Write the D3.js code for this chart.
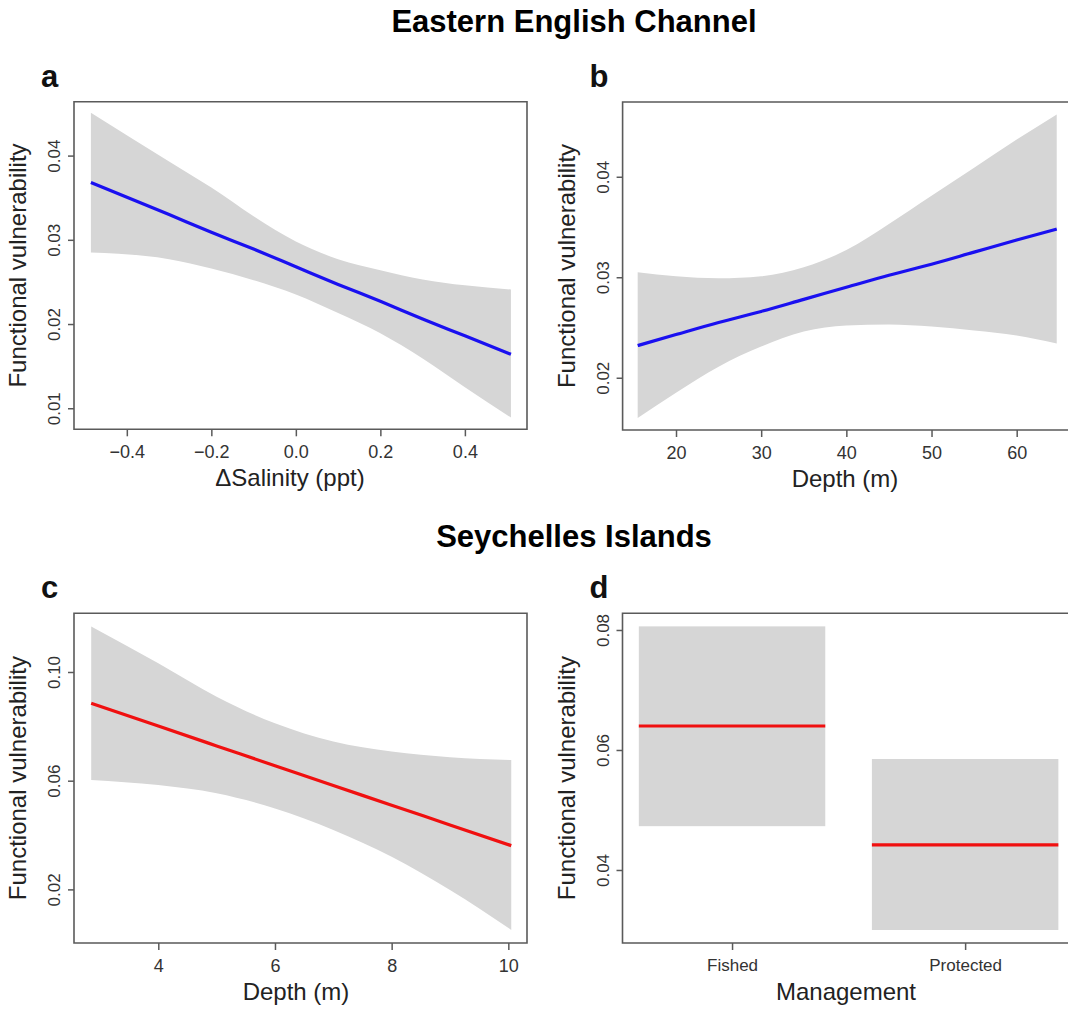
<!DOCTYPE html>
<html>
<head>
<meta charset="utf-8">
<script src="https://cdn.jsdelivr.net/npm/d3@7"></script>
<style>
  html, body { margin: 0; background: #fff; overflow: hidden; }
  svg { display: block; font-family: "Liberation Sans", Arial, Helvetica, sans-serif; }
</style>
</head>
<body>
<div id="chart"></div>
<script>
// Panel a: Eastern English Channel, salinity change
const salinityX     = [-0.485, -0.3, -0.2, -0.1, 0.0, 0.1, 0.2, 0.3, 0.4, 0.509];
const salinityFit   = [0.0368, 0.0330, 0.0309, 0.0289, 0.0268, 0.0247, 0.0227, 0.0206, 0.0186, 0.0164];
const salinityUpper = [0.0451, 0.0393, 0.0362, 0.0328, 0.0298, 0.0277, 0.0264, 0.0253, 0.0246, 0.0241];
const salinityLower = [0.0285, 0.0277, 0.0266, 0.0252, 0.0235, 0.0213, 0.0189, 0.0159, 0.0125, 0.0089];

// Panel b: Eastern English Channel, depth
const eecDepthX = [15.5, 20, 25, 30, 35, 40, 45, 50, 55, 60, 64.7];
const eecFit    = [0.0232, 0.0243, 0.0255, 0.0266, 0.0278, 0.0290, 0.0302, 0.0313, 0.0325, 0.0337, 0.0348];
const eecUpper  = [0.0305, 0.0301, 0.0299, 0.0301, 0.0310, 0.0327, 0.0353, 0.0381, 0.0409, 0.0437, 0.0462];
const eecLower  = [0.0160, 0.0185, 0.0211, 0.0231, 0.0246, 0.0252, 0.0253, 0.0251, 0.0247, 0.0242, 0.0234];

// Panel c: Seychelles, depth
const seyDepthX = [2.85, 4, 5, 6, 7, 8, 9, 10.05];
const seyFit    = [0.0885, 0.0801, 0.0728, 0.0655, 0.0582, 0.0510, 0.0437, 0.0361];
const seyUpper  = [0.1167, 0.1032, 0.0909, 0.0811, 0.0744, 0.0707, 0.0686, 0.0676];
const seyLower  = [0.0603, 0.0584, 0.0554, 0.0498, 0.0419, 0.0320, 0.0198, 0.0051];

// Panel d: Seychelles, management
const mgmtCats  = ["Fished", "Protected"];
const mgmtFit   = [0.0640, 0.0442];
const mgmtLower = [0.0473, 0.0300];
const mgmtUpper = [0.0806, 0.0585];

// tick values
const ticksA = { x: [-0.4, -0.2, 0, 0.2, 0.4], y: [0.01, 0.02, 0.03, 0.04] };
const ticksB = { x: [20, 30, 40, 50, 60], y: [0.02, 0.03, 0.04] };
const ticksC = { x: [4, 6, 8, 10], y: [0.02, 0.06, 0.10] };
const ticksD = { x: [1, 2], y: [0.04, 0.06, 0.08] };

const width = 1068, height = 1010;
const svg = d3.select('#chart').append('svg')
    .attr('width', width)
    .attr('height', height);

const minus = s => s.replace('-', '\u2212');

function panel(opt) {
    const x = d3.scaleLinear().domain(opt.xDomain).range([opt.box.x0, opt.box.x1]);
    const y = d3.scaleLinear().domain(opt.yDomain).range([opt.box.y1, opt.box.y0]);
    const g = svg.append('g');

    // confidence band(s) and fitted line
    if (opt.cats) {
        g.selectAll('rect.band')
            .data(opt.cats)
            .join('rect')
            .attr('class', 'band')
            .attr('x', (d, i) => x(i + 0.6))
            .attr('width', (d, i) => x(i + 1.4) - x(i + 0.6))
            .attr('y', (d, i) => y(opt.upper[i]))
            .attr('height', (d, i) => y(opt.lower[i]) - y(opt.upper[i]))
            .attr('fill', '#d6d6d6');
        g.selectAll('line.fit')
            .data(opt.cats)
            .join('line')
            .attr('class', 'fit')
            .attr('x1', (d, i) => x(i + 0.6))
            .attr('x2', (d, i) => x(i + 1.4))
            .attr('y1', (d, i) => y(opt.fit[i]))
            .attr('y2', (d, i) => y(opt.fit[i]))
            .attr('stroke', opt.color)
            .attr('stroke-width', 3.2);
    } else {
        const pts = opt.xs.map((v, i) => ({ x: v, lo: opt.lower[i], hi: opt.upper[i], fit: opt.fit[i] }));
        g.append('path')
            .datum(pts)
            .attr('fill', '#d6d6d6')
            .attr('d', d3.area().curve(d3.curveMonotoneX)
                .x(d => x(d.x)).y0(d => y(d.lo)).y1(d => y(d.hi)));
        g.append('path')
            .datum(pts)
            .attr('fill', 'none')
            .attr('stroke', opt.color)
            .attr('stroke-width', 3.2)
            .attr('d', d3.line().curve(d3.curveMonotoneX).x(d => x(d.x)).y(d => y(d.fit)));
    }

    // frame (right side is cut off by the page for the right-hand panels)
    const b = opt.box;
    const frame = b.x1 <= width
        ? `M${b.x1},${b.y0}H${b.x0}V${b.y1}H${b.x1}Z`
        : `M${width + 5},${b.y0}H${b.x0}V${b.y1}H${width + 5}`;
    g.append('path')
        .attr('d', frame)
        .attr('fill', 'none')
        .attr('stroke', '#5a5a5a')
        .attr('stroke-width', 1.6);

    // x axis
    const xa = g.append('g')
        .attr('transform', `translate(0,${b.y1})`)
        .call(d3.axisBottom(x).tickValues(opt.ticks.x).tickSize(7).tickPadding(9)
            .tickFormat(opt.xFormat));
    xa.select('.domain').remove();
    xa.selectAll('line').attr('stroke', '#5a5a5a').attr('stroke-width', 1.5);
    xa.selectAll('text')
        .attr('fill', '#333')
        .style('font-size', opt.xTickSize + 'px')
        .style('font-family', '"Liberation Sans", Arial, sans-serif');

    // y axis with rotated labels
    const ya = g.append('g')
        .attr('transform', `translate(${b.x0},0)`)
        .call(d3.axisLeft(y).tickValues(opt.ticks.y).tickSize(6).tickFormat(d3.format('.2f')));
    ya.select('.domain').remove();
    ya.selectAll('line').attr('stroke', '#5a5a5a').attr('stroke-width', 1.5);
    ya.selectAll('text')
        .attr('x', null).attr('dy', null)
        .attr('text-anchor', 'middle')
        .attr('transform', 'translate(-14,0) rotate(-90)')
        .attr('fill', '#333')
        .style('font-size', '17px')
        .style('font-family', '"Liberation Sans", Arial, sans-serif');

    // axis titles
    g.append('text')
        .attr('x', opt.xTitleX)
        .attr('y', b.y1 + 57)
        .attr('text-anchor', 'middle')
        .attr('fill', '#222')
        .style('font-size', '24px')
        .text(opt.xTitle);
    g.append('text')
        .attr('transform', `translate(${b.x0 - 48},${(b.y0 + b.y1) / 2}) rotate(-90)`)
        .attr('text-anchor', 'middle')
        .attr('fill', '#222')
        .style('font-size', '24px')
        .text('Functional vulnerability');

    // panel letter
    g.append('text')
        .attr('x', b.x0 - 33)
        .attr('y', b.y0 - 15)
        .attr('font-weight', 'bold')
        .attr('fill', '#111')
        .style('font-size', '31px')
        .text(opt.letter);
}

panel({
    letter: 'a', box: { x0: 74, x1: 527, y0: 101.7, y1: 429.3 },
    xDomain: [-0.525, 0.547], yDomain: [0.0075, 0.0464],
    xs: salinityX, fit: salinityFit, upper: salinityUpper, lower: salinityLower,
    ticks: ticksA, xFormat: d => minus(d3.format('.1f')(d)), xTickSize: 18,
    color: '#1a10f0', xTitle: '\u0394Salinity (ppt)', xTitleX: 290
});
panel({
    letter: 'b', box: { x0: 622.6, x1: 1077, y0: 102, y1: 430 },
    xDomain: [13.73, 67.08], yDomain: [0.0148, 0.04744],
    xs: eecDepthX, fit: eecFit, upper: eecUpper, lower: eecLower,
    ticks: ticksB, xFormat: d3.format('d'), xTickSize: 18,
    color: '#1a10f0', xTitle: 'Depth (m)', xTitleX: 845
});
panel({
    letter: 'c', box: { x0: 74, x1: 527, y0: 613.3, y1: 943 },
    xDomain: [2.555, 10.32], yDomain: [0.00027, 0.1216],
    xs: seyDepthX, fit: seyFit, upper: seyUpper, lower: seyLower,
    ticks: ticksC, xFormat: d3.format('d'), xTickSize: 18,
    color: '#f01010', xTitle: 'Depth (m)', xTitleX: 296
});
panel({
    letter: 'd', box: { x0: 622.5, x1: 1077, y0: 613.3, y1: 943 },
    xDomain: [0.53, 2.48], yDomain: [0.02783, 0.08278],
    cats: mgmtCats, fit: mgmtFit, upper: mgmtUpper, lower: mgmtLower,
    ticks: ticksD, xFormat: d => mgmtCats[d - 1], xTickSize: 17,
    color: '#f01010', xTitle: 'Management', xTitleX: 846
});

// section titles
svg.append('text')
    .attr('x', 574).attr('y', 32)
    .attr('text-anchor', 'middle')
    .attr('font-weight', 'bold')
    .style('font-size', '31px')
    .text('Eastern English Channel');
svg.append('text')
    .attr('x', 574).attr('y', 547)
    .attr('text-anchor', 'middle')
    .attr('font-weight', 'bold')
    .style('font-size', '31px')
    .text('Seychelles Islands');
</script>
</body>
</html>
